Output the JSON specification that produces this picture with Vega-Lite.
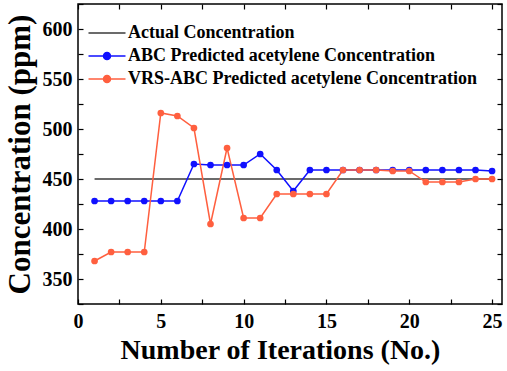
{
  "$schema": "https://vega.github.io/schema/vega-lite/v6.json",
  "width": 424,
  "height": 300,
  "autosize": "none",
  "padding": {"left": 78, "top": 4, "right": 5, "bottom": 67},
  "background": "white",
  "config": {
    "view": {"stroke": "black", "strokeWidth": 1.5},
    "font": "Liberation Serif",
    "axis": {
      "grid": false,
      "domain": false,
      "tickColor": "black",
      "tickWidth": 1.2,
      "tickSize": -5,
      "labelFont": "Liberation Serif",
      "labelFontWeight": "bold",
      "labelFontSize": 20,
      "labelColor": "black",
      "labelFlush": false,
      "labelOverlap": false,
      "titleFont": "Liberation Serif",
      "titleFontWeight": "bold",
      "titleColor": "black"
    }
  },
  "data": {
    "values": [
      {"iter": 1, "value": 450, "series": "Actual Concentration"},
      {"iter": 25, "value": 450, "series": "Actual Concentration"},
      {"iter": 1, "value": 428, "series": "ABC Predicted acetylene Concentration"},
      {"iter": 2, "value": 428, "series": "ABC Predicted acetylene Concentration"},
      {"iter": 3, "value": 428, "series": "ABC Predicted acetylene Concentration"},
      {"iter": 4, "value": 428, "series": "ABC Predicted acetylene Concentration"},
      {"iter": 5, "value": 428, "series": "ABC Predicted acetylene Concentration"},
      {"iter": 6, "value": 428, "series": "ABC Predicted acetylene Concentration"},
      {"iter": 7, "value": 465, "series": "ABC Predicted acetylene Concentration"},
      {"iter": 8, "value": 464, "series": "ABC Predicted acetylene Concentration"},
      {"iter": 9, "value": 464, "series": "ABC Predicted acetylene Concentration"},
      {"iter": 10, "value": 464, "series": "ABC Predicted acetylene Concentration"},
      {"iter": 11, "value": 475, "series": "ABC Predicted acetylene Concentration"},
      {"iter": 12, "value": 459, "series": "ABC Predicted acetylene Concentration"},
      {"iter": 13, "value": 438, "series": "ABC Predicted acetylene Concentration"},
      {"iter": 14, "value": 459, "series": "ABC Predicted acetylene Concentration"},
      {"iter": 15, "value": 459, "series": "ABC Predicted acetylene Concentration"},
      {"iter": 16, "value": 459, "series": "ABC Predicted acetylene Concentration"},
      {"iter": 17, "value": 459, "series": "ABC Predicted acetylene Concentration"},
      {"iter": 18, "value": 459, "series": "ABC Predicted acetylene Concentration"},
      {"iter": 19, "value": 459, "series": "ABC Predicted acetylene Concentration"},
      {"iter": 20, "value": 459, "series": "ABC Predicted acetylene Concentration"},
      {"iter": 21, "value": 459, "series": "ABC Predicted acetylene Concentration"},
      {"iter": 22, "value": 459, "series": "ABC Predicted acetylene Concentration"},
      {"iter": 23, "value": 459, "series": "ABC Predicted acetylene Concentration"},
      {"iter": 24, "value": 459, "series": "ABC Predicted acetylene Concentration"},
      {"iter": 25, "value": 458, "series": "ABC Predicted acetylene Concentration"},
      {"iter": 1, "value": 368, "series": "VRS-ABC Predicted acetylene Concentration"},
      {"iter": 2, "value": 377, "series": "VRS-ABC Predicted acetylene Concentration"},
      {"iter": 3, "value": 377, "series": "VRS-ABC Predicted acetylene Concentration"},
      {"iter": 4, "value": 377, "series": "VRS-ABC Predicted acetylene Concentration"},
      {"iter": 5, "value": 516, "series": "VRS-ABC Predicted acetylene Concentration"},
      {"iter": 6, "value": 513, "series": "VRS-ABC Predicted acetylene Concentration"},
      {"iter": 7, "value": 501, "series": "VRS-ABC Predicted acetylene Concentration"},
      {"iter": 8, "value": 405, "series": "VRS-ABC Predicted acetylene Concentration"},
      {"iter": 9, "value": 481, "series": "VRS-ABC Predicted acetylene Concentration"},
      {"iter": 10, "value": 411, "series": "VRS-ABC Predicted acetylene Concentration"},
      {"iter": 11, "value": 411, "series": "VRS-ABC Predicted acetylene Concentration"},
      {"iter": 12, "value": 435, "series": "VRS-ABC Predicted acetylene Concentration"},
      {"iter": 13, "value": 435, "series": "VRS-ABC Predicted acetylene Concentration"},
      {"iter": 14, "value": 435, "series": "VRS-ABC Predicted acetylene Concentration"},
      {"iter": 15, "value": 435, "series": "VRS-ABC Predicted acetylene Concentration"},
      {"iter": 16, "value": 459, "series": "VRS-ABC Predicted acetylene Concentration"},
      {"iter": 17, "value": 459, "series": "VRS-ABC Predicted acetylene Concentration"},
      {"iter": 18, "value": 459, "series": "VRS-ABC Predicted acetylene Concentration"},
      {"iter": 19, "value": 458, "series": "VRS-ABC Predicted acetylene Concentration"},
      {"iter": 20, "value": 458, "series": "VRS-ABC Predicted acetylene Concentration"},
      {"iter": 21, "value": 447, "series": "VRS-ABC Predicted acetylene Concentration"},
      {"iter": 22, "value": 447, "series": "VRS-ABC Predicted acetylene Concentration"},
      {"iter": 23, "value": 447, "series": "VRS-ABC Predicted acetylene Concentration"},
      {"iter": 24, "value": 450, "series": "VRS-ABC Predicted acetylene Concentration"},
      {"iter": 25, "value": 450, "series": "VRS-ABC Predicted acetylene Concentration"}
    ]
  },
  "layer": [
    {
      "mark": {"type": "line", "strokeWidth": 1.5},
      "encoding": {
        "x": {
          "field": "iter", "type": "quantitative",
          "scale": {"domain": [0, 25.6], "nice": false, "zero": false},
          "title": "Number of Iterations (No.)",
          "axis": {
            "orient": "bottom",
            "values": [0, 2.5, 5, 7.5, 10, 12.5, 15, 17.5, 20, 22.5, 25],
            "labelExpr": "datum.value % 5 === 0 ? datum.label : ''",
            "labelPadding": 12,
            "titleFontSize": 28,
            "titlePadding": 5,
            "titleX": 202
          }
        },
        "y": {
          "field": "value", "type": "quantitative",
          "scale": {"domain": [325, 625], "nice": false, "zero": false},
          "title": "Concentration  (ppm)",
          "axis": {
            "orient": "left",
            "values": [325, 350, 375, 400, 425, 450, 475, 500, 525, 550, 575, 600, 625],
            "labelExpr": "datum.value % 50 === 0 ? datum.label : ''",
            "labelPadding": 11,
            "titleFontSize": 31,
            "titlePadding": 6
          }
        },
        "color": {
          "field": "series", "type": "nominal",
          "scale": {
            "domain": ["Actual Concentration", "ABC Predicted acetylene Concentration", "VRS-ABC Predicted acetylene Concentration"],
            "range": ["#3a3a3a", "#1010ff", "#ff5f3f"]
          },
          "legend": {
            "title": null,
            "orient": "none",
            "legendX": 20,
            "legendY": 20,
            "padding": 0,
            "symbolSize": 100,
            "symbolStrokeWidth": 1.5,
            "labelFont": "Liberation Serif",
            "labelFontWeight": "bold",
            "labelFontSize": 18,
            "labelColor": "black",
            "labelOffset": 12,
            "rowPadding": 5,
            "labelLimit": 500,
            "encode": {
              "symbols": {
                "update": {
                  "shape": {"signal": "datum.value === 'Actual Concentration' ? 'M-3.7,0H3.7' : 'M-3.7,0H3.7M-0.7,0A0.7,0.7 0 1,1 0.7,0A0.7,0.7 0 1,1 -0.7,0Z'"},
                  "fill": {"signal": "datum.value === 'Actual Concentration' ? 'transparent' : scale('color', datum.value)"}
                }
              }
            }
          }
        }
      }
    },
    {
      "transform": [{"filter": "datum.series !== 'Actual Concentration'"}],
      "mark": {"type": "point", "filled": true, "size": 45, "opacity": 1},
      "encoding": {
        "x": {
          "field": "iter", "type": "quantitative",
          "axis": {
            "orient": "top",
            "values": [0, 2.5, 5, 7.5, 10, 12.5, 15, 17.5, 20, 22.5, 25],
            "labels": false,
            "title": null
          }
        },
        "y": {
          "field": "value", "type": "quantitative",
          "axis": {
            "orient": "right",
            "values": [325, 350, 375, 400, 425, 450, 475, 500, 525, 550, 575, 600, 625],
            "labels": false,
            "title": null
          }
        },
        "color": {"field": "series", "type": "nominal", "legend": null}
      }
    }
  ],
  "resolve": {"axis": {"x": "independent", "y": "independent"}}
}
